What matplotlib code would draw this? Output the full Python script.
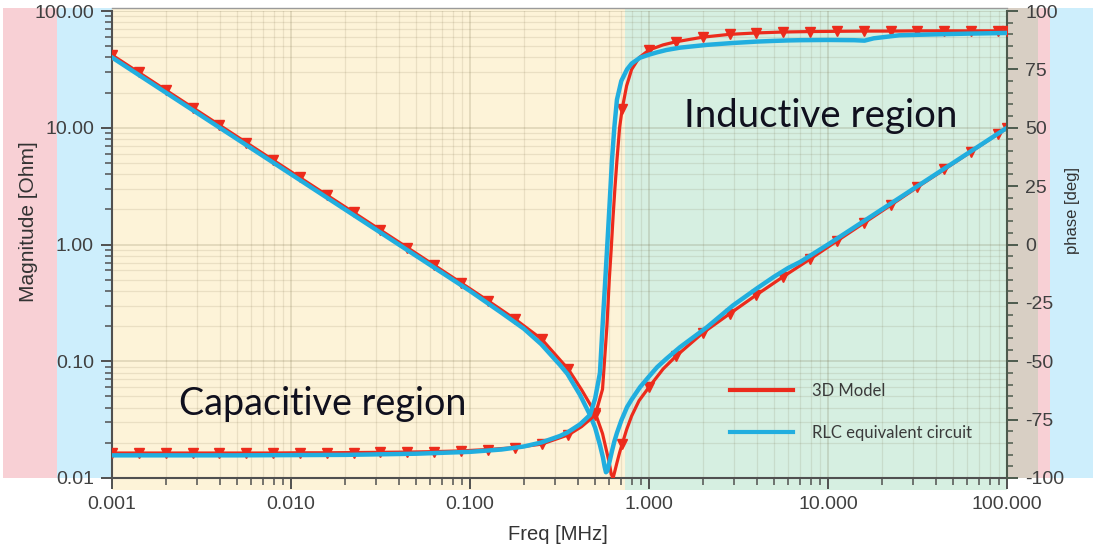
import numpy as np
import matplotlib
matplotlib.use("Agg")
import matplotlib.pyplot as plt
from matplotlib.lines import Line2D
from matplotlib.patches import Rectangle
from matplotlib.ticker import FixedLocator, NullFormatter, MultipleLocator, LogLocator

# ---------------- data ----------------
mark_freq = [0.001, 0.00141, 0.002, 0.00282, 0.00398, 0.00562, 0.00794, 0.0112, 0.0158,
             0.0224, 0.0316, 0.0447, 0.0631, 0.0891, 0.126, 0.178, 0.251, 0.355, 0.501,
             0.708, 1.0, 1.41, 2.0, 2.82, 3.98, 5.62, 7.94, 11.2, 15.8, 22.4, 31.6, 44.7,
             63.1, 89.1, 100]

red_freq = [0.001, 0.00141, 0.002, 0.00282, 0.00398, 0.00562, 0.00794, 0.0112, 0.0158,
            0.0224, 0.0316, 0.0447, 0.0631, 0.0891, 0.126, 0.178, 0.251, 0.355, 0.42,
            0.501, 0.55, 0.582, 0.60, 0.615, 0.63, 0.645, 0.662, 0.685, 0.708, 0.75,
            0.8, 0.88, 1.0, 1.2, 1.41, 2.0, 2.82, 3.98, 5.62, 7.94, 11.2, 15.8, 22.4,
            31.6, 44.7, 63.1, 89.1, 100]
red_mag = [42, 29.8, 21, 14.9, 10.55, 7.47, 5.29, 3.75, 2.66,
           1.88, 1.33, 0.94, 0.665, 0.47, 0.33, 0.23, 0.155, 0.085, 0.057,
           0.036, 0.024, 0.0165, 0.0135, 0.0108, 0.0100, 0.0115, 0.0135, 0.0165, 0.0195, 0.026,
           0.034, 0.046, 0.060, 0.086, 0.11, 0.175, 0.255, 0.37, 0.53, 0.75, 1.07, 1.52, 2.17,
           3.1, 4.4, 6.25, 8.85, 9.95]
red_phase = [-89.3, -89.3, -89.3, -89.3, -89.3, -89.3, -89.3, -89.2, -89.2,
             -89.1, -89.0, -88.9, -88.7, -88.4, -87.8, -87.0, -85.5, -81.5, -78,
             -73, -62, -35, -15, -2, 12, 24, 36, 50, 58, 68,
             75, 80, 83.3, 85.5, 86.8, 88.8, 90.0, 90.6, 91.0, 91.2, 91.3, 91.4, 91.4,
             91.5, 91.5, 91.5, 91.5, 91.5]

blue_freq = [0.001, 0.002, 0.005, 0.01, 0.02, 0.05, 0.1, 0.15, 0.2, 0.25, 0.318, 0.35,
             0.412, 0.468, 0.5, 0.532, 0.553, 0.565, 0.575, 0.585, 0.6, 0.621, 0.64,
             0.662, 0.7, 0.754, 0.8, 0.891, 1.0, 1.11, 1.25, 1.49, 2.11, 2.94, 4.0, 5.0,
             6.0, 7.0, 10, 14, 16, 18, 25, 40, 60, 100]
blue_mag = [40, 20, 8.0, 4.0, 2.0, 0.80, 0.40, 0.26, 0.19, 0.14, 0.093, 0.078,
            0.0514, 0.0347, 0.027, 0.0192, 0.0150, 0.0125, 0.0112, 0.0115, 0.0135, 0.017, 0.0205,
            0.0243, 0.031, 0.0405, 0.047, 0.060, 0.074, 0.089, 0.105, 0.132, 0.196, 0.30, 0.42, 0.53,
            0.63, 0.71, 1.0, 1.4, 1.6, 1.8, 2.5, 4.0, 6.0, 10.0]
blue_phase = [-90.3, -90.3, -90.3, -90.2, -90.1, -89.6, -88.8, -87.8, -86.5, -84.8, -82.0, -80.5,
              -77, -73, -66, -55, -32, -20, -10, 0, 15, 36, 50,
              62, 70, 75, 77.5, 80, 81.3, 82.3, 83.3, 84.3, 85.5, 86.3, 86.9, 87.2,
              87.4, 87.5, 87.6, 87.5, 87.3, 88.3, 89.6, 90.0, 90.3, 90.6]

x_ticks = [0.001, 0.01, 0.1, 1, 10, 100]
x_ticklabels = ["0.001", "0.010", "0.100", "1.000", "10.000", "100.000"]
y_ticks = [0.01, 0.1, 1, 10, 100]
y_ticklabels = ["0.01", "0.10", "1.00", "10.00", "100.00"]
phase_ticks = [-100, -75, -50, -25, 0, 25, 50, 75, 100]
phase_ticklabels = ["-100", "-75", "-50", "-25", "0", "25", "50", "75", "100"]
series_labels = ["3D Model", "RLC equivalent circuit"]
region_labels = ["Capacitive region", "Inductive region"]
boundary_freq = 0.73

# ---------------- style ----------------
RED = "#ec2b1c"
BLUE = "#21aedf"
YELLOW = "#fdf3d8"
GREEN = "#d6efe1"
PINK = "#f8d0d5"
LBLUE = "#cdeefc"
TAN = "#d8cfc4"
TICKC = "#404040"

plt.rcParams["font.family"] = ["Liberation Sans", "DejaVu Sans"]

W, H = 1095, 547
fig = plt.figure(figsize=(W / 100, H / 100), dpi=100)
ax = fig.add_axes([112 / W, 1 - 478 / H, 895 / W, 467 / H])


def fig_rect(x0, x1, y0, y1, color):
    fig.add_artist(Rectangle((x0 / W, 1 - y1 / H), (x1 - x0) / W, (y1 - y0) / H,
                             transform=fig.transFigure, facecolor=color,
                             edgecolor="none", zorder=-5))


# side colour strips
fig_rect(3, 57, 8, 478, PINK)
fig_rect(57, 112, 8, 478, LBLUE)
fig_rect(1007, 1038, 8, 478, TAN)
fig_rect(1038, 1050, 8, 478, PINK)
fig_rect(1050, 1093, 8, 478, LBLUE)

ax.set_xscale("log")
ax.set_yscale("log")
ax.set_xlim(0.001, 100)
ax.set_ylim(0.01, 100)
ax.patch.set_visible(False)

# region shading (extends a little beyond the frame)
ax.axvspan(0.001, boundary_freq, ymin=-0.025, ymax=1.006, facecolor=YELLOW,
           edgecolor="none", zorder=0.1, clip_on=False)
ax.axvspan(boundary_freq, 100, ymin=-0.025, ymax=1.006, facecolor=GREEN,
           edgecolor="none", zorder=0.1, clip_on=False)

ax.set_axisbelow(True)
ax.grid(which="major", color="#6b5f3a", alpha=0.22, lw=1.1)
ax.grid(which="minor", color="#6b5f3a", alpha=0.13, lw=0.9)

mark_idx = [i for i, f in enumerate(red_freq) if f in mark_freq]

ax.plot(red_freq, red_mag, color=RED, lw=2.3, marker="v", ms=6.5,
        markevery=mark_idx, zorder=3)
ax.plot(blue_freq, blue_mag, color=BLUE, lw=3.2, zorder=4)

ax.xaxis.set_major_locator(FixedLocator(x_ticks))
ax.set_xticklabels(x_ticklabels)
ax.yaxis.set_major_locator(FixedLocator(y_ticks))
ax.set_yticklabels(y_ticklabels)
ax.xaxis.set_minor_locator(LogLocator(base=10, subs=np.arange(2, 10)))
ax.yaxis.set_minor_locator(LogLocator(base=10, subs=np.arange(2, 10)))
ax.xaxis.set_minor_formatter(NullFormatter())
ax.yaxis.set_minor_formatter(NullFormatter())

ax.tick_params(which="major", direction="out", length=8, width=1.4, color="#505050",
               labelsize=14, labelcolor=TICKC, pad=5)
ax.tick_params(which="minor", direction="out", length=5, width=1.1, color="#505050")
ax.tick_params(axis="x", which="major", pad=5)

for s in ["top", "right"]:
    ax.spines[s].set_visible(False)
for s in ["left", "bottom"]:
    ax.spines[s].set_color("#505050")
    ax.spines[s].set_linewidth(1.5)

ax2 = ax.twinx()
ax2.set_ylim(-100, 100)
ax2.plot(red_freq, red_phase, color=RED, lw=2.3, marker="v", ms=6.5,
         markevery=mark_idx, zorder=3)
ax2.plot(blue_freq, blue_phase, color=BLUE, lw=3.2, zorder=4)
ax2.yaxis.set_major_locator(FixedLocator(phase_ticks))
ax2.set_yticklabels(phase_ticklabels)
ax2.yaxis.set_minor_locator(MultipleLocator(5))
ax2.tick_params(which="major", direction="out", length=8, width=1.4, color="#4d5a4d",
                labelsize=14, labelcolor=TICKC, pad=5)
ax2.tick_params(which="minor", direction="out", length=4, width=1.1, color="#4d5a4d")
for s in ["top", "left", "bottom"]:
    ax2.spines[s].set_visible(False)
ax2.spines["right"].set_color("#4d5a4d")
ax2.spines["right"].set_linewidth(1.5)

# thin frame line at the very top
fig.add_artist(Line2D([112 / W, 1007 / W], [1 - 8 / H, 1 - 8 / H], transform=fig.transFigure,
                      color="#9a9a9a", lw=1.0))

# axis titles
fig.text(29 / W, 1 - 222 / H, "Magnitude [Ohm]", rotation=90, ha="center", va="center",
         fontsize=15, color="#333333")
fig.text(1073 / W, 1 - 210 / H, "phase [deg]", rotation=90, ha="center", va="center",
         fontsize=12, color="#333333")
fig.text(558 / W, 1 - 535 / H, "Freq [MHz]", ha="center", va="center",
         fontsize=14.5, color="#333333")

# region annotations
fig.text(179 / W, 1 - 415 / H, region_labels[0], ha="left", va="baseline",
         fontsize=27.2, color="#10101e", family=["Lato", "DejaVu Sans"])
fig.text(684 / W, 1 - 127 / H, region_labels[1], ha="left", va="baseline",
         fontsize=27.6, color="#10101e", family=["Lato", "DejaVu Sans"])

# legend
handles = [Line2D([], [], color=RED, lw=3), Line2D([], [], color=BLUE, lw=3)]
leg = ax.legend(handles, series_labels, loc="upper left",
                bbox_to_anchor=((730 - 112) / 895, (478 - 383) / 467),
                frameon=False, handlelength=3.8, handletextpad=1.1, labelspacing=1.55,
                borderpad=0, borderaxespad=0,
                prop={"family": ["Lato", "DejaVu Sans"], "size": 12})
for t in leg.get_texts():
    t.set_color("#3a3a3a")

fig.savefig("out.png", dpi=100)
